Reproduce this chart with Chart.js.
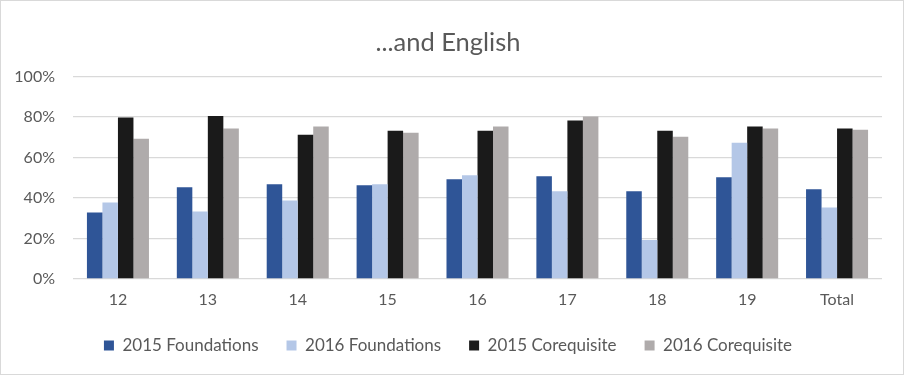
<!DOCTYPE html>
<html>
<head>
<meta charset="utf-8">
<script src="https://cdn.jsdelivr.net/npm/chart.js@4.4.1/dist/chart.umd.min.js"></script>
<style>
  html, body { margin: 0; padding: 0; background: #ffffff; }
  #wrap { width: 904px; height: 375px; box-sizing: border-box; border: 1px solid #d9d9d9; background: #fff; }
  #c { display: block; }
</style>
</head>
<body>
<div id="wrap"><canvas id="c" width="902" height="373"></canvas></div>
<script>
const categories = ['12', '13', '14', '15', '16', '17', '18', '19', 'Total'];
const seriesNames = ['2015 Foundations', '2016 Foundations', '2015 Corequisite', '2016 Corequisite'];
const foundations2015 = [32.8, 45.3, 46.8, 46.3, 49.3, 50.8, 43.3, 50.3, 44.3];
const foundations2016 = [37.8, 33.3, 38.8, 46.8, 51.3, 43.3, 19.3, 67.3, 35.3];
const corequisite2015 = [79.8, 80.5, 71.3, 73.3, 73.3, 78.3, 73.3, 75.3, 74.3];
const corequisite2016 = [69.3, 74.3, 75.3, 72.3, 75.3, 80.3, 70.3, 74.3, 73.8];
const yTickValues = [0, 20, 40, 60, 80, 100];
const colors = ['#2F5597', '#B4C7E7', '#1A1A1A', '#AFABAB'];

const seriesValues = [foundations2015, foundations2016, corequisite2015, corequisite2016];
const FONT = 'Lato, "Liberation Sans", sans-serif';

new Chart(document.getElementById('c'), {
  type: 'bar',
  data: {
    labels: categories,
    datasets: seriesValues.map((vals, i) => ({
      label: seriesNames[i],
      data: vals,
      backgroundColor: colors[i],
      borderWidth: 0,
      categoryPercentage: 0.69,
      barPercentage: 1.0
    }))
  },
  options: {
    responsive: false,
    animation: false,
    layout: { padding: { left: 13, right: 21, top: 0, bottom: 10 } },
    plugins: {
      title: {
        display: true,
        text: '...and English',
        color: '#595959',
        font: { family: FONT, size: 25.5, weight: 'normal', lineHeight: 1.2 },
        padding: { top: 26, bottom: 19 }
      },
      legend: {
        position: 'bottom',
        labels: {
          color: '#595959',
          font: { family: FONT, size: 17 },
          boxWidth: 10,
          boxHeight: 10,
          padding: 28
        }
      },
      tooltip: { enabled: false }
    },
    scales: {
      x: {
        grid: { display: false, drawTicks: false },
        border: { display: false },
        ticks: { color: '#595959', font: { family: FONT, size: 16 }, padding: 11, maxRotation: 0 },
        afterFit: (s) => { s.height = 30; }
      },
      y: {
        min: 0,
        max: 100,
        afterBuildTicks: (s) => { s.ticks = yTickValues.map(v => ({ value: v })); },
        grid: { color: '#d9d9d9', lineWidth: 1.3, drawTicks: false },
        border: { display: false },
        ticks: {
          color: '#595959',
          font: { family: FONT, size: 16 },
          padding: 18,
          callback: (v) => v + '%'
        },
        afterFit: (s) => { s.width = 59; }
      }
    }
  }
});
</script>
</body>
</html>
